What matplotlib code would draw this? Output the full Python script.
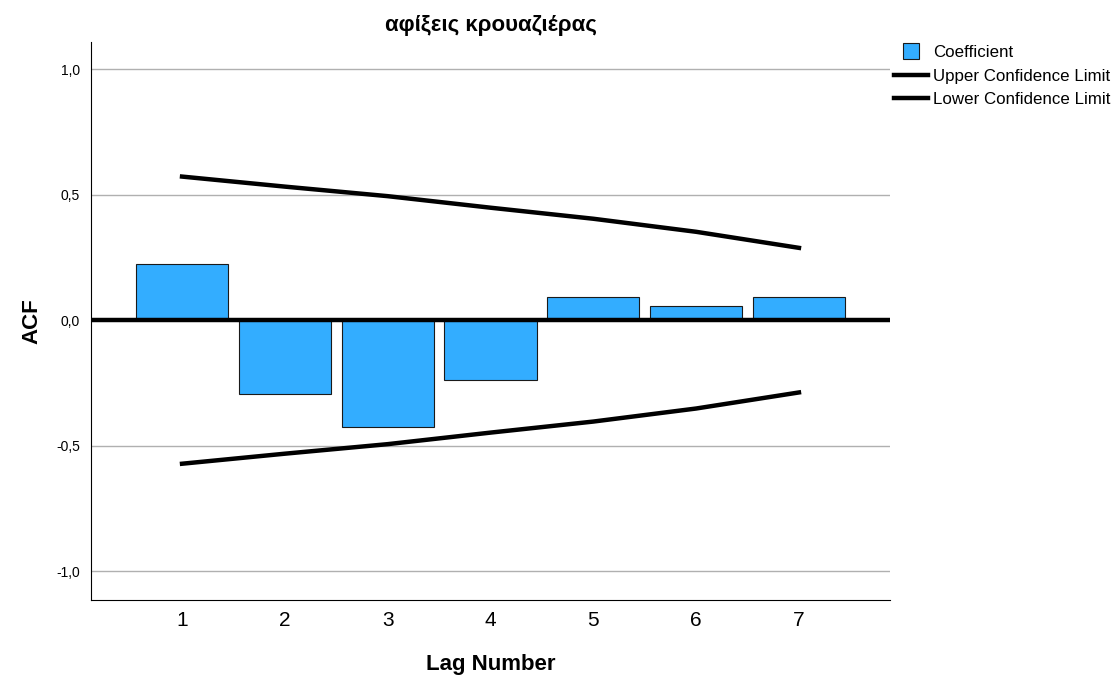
import matplotlib
matplotlib.use("Agg")
import matplotlib.pyplot as plt
from matplotlib.lines import Line2D

plt.rcParams['font.family'] = ['Liberation Sans', 'DejaVu Sans']

# Данные ACF
lags = [1, 2, 3, 4, 5, 6, 7]
coefficient = [0.223, -0.296, -0.427, -0.240, 0.092, 0.056, 0.092]
upper_cl = [0.572, 0.532, 0.494, 0.448, 0.404, 0.352, 0.288]
lower_cl = [-0.572, -0.532, -0.494, -0.448, -0.404, -0.352, -0.288]
ytick_vals = [-1.0, -0.5, 0.0, 0.5, 1.0]
ytick_labels = ['-1,0', '-0,5', '0,0', '0,5', '1,0']

fig = plt.figure(figsize=(11.13, 6.78), dpi=100)
ax = fig.add_axes([0.0818, 0.115, 0.7178, 0.823])

ax.set_ylim(-1.115, 1.108)
ax.set_xlim(0.115, 7.885)
ax.set_yticks(ytick_vals)
ax.set_yticklabels(ytick_labels, fontsize=10)
ax.set_xticks(lags)
ax.set_xticklabels([str(l) for l in lags], fontsize=15)
ax.tick_params(length=0, pad=8)
ax.yaxis.grid(True, color='#b0b0b0', lw=1)
ax.set_axisbelow(True)

for s in ['top', 'right']:
    ax.spines[s].set_visible(False)
for s in ['left', 'bottom']:
    ax.spines[s].set_linewidth(0.8)

ax.bar(lags, coefficient, width=0.895, color='#33adff', edgecolor='#1a1a1a', linewidth=0.8, zorder=3)
ax.axhline(0, color='black', lw=3.2, zorder=4)
ax.plot(lags, upper_cl, color='black', lw=3.2, zorder=4)
ax.plot(lags, lower_cl, color='black', lw=3.2, zorder=4)

ax.set_title('αφίξεις κρουαζιέρας', fontsize=16, fontweight='bold', pad=8)
ax.set_xlabel('Lag Number', fontsize=16, fontweight='bold', labelpad=17)
ax.set_ylabel('ACF', fontsize=16, fontweight='bold', labelpad=10)

# Легенда: квадрат для коэффициентов и линии для границ
handles = [
    Line2D([0], [0], linestyle='None', marker='s', markersize=12,
           markerfacecolor='#33adff', markeredgecolor='#1a1a1a', markeredgewidth=0.8),
    Line2D([0], [0], color='black', lw=3.2),
    Line2D([0], [0], color='black', lw=3.2),
]
fig.legend(handles, ['Coefficient', 'Upper Confidence Limit', 'Lower Confidence Limit'],
           loc='upper left', bbox_to_anchor=(0.797, 0.943), frameon=False,
           fontsize=12.2, handlelength=2.0, handletextpad=0.3, labelspacing=0.5,
           borderaxespad=0)

fig.savefig('out.png', dpi=100)
